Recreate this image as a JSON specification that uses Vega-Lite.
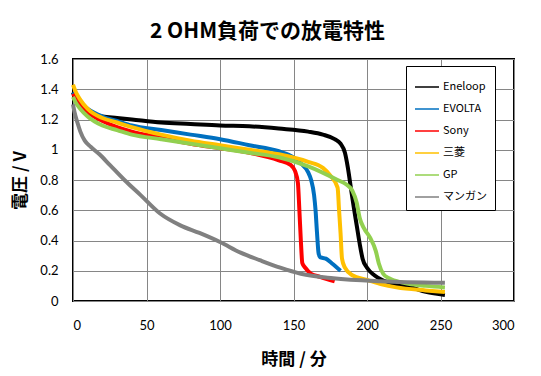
{
  "$schema": "https://vega.github.io/schema/vega-lite/v6.json",
  "width": 441,
  "height": 242,
  "autosize": {"type": "none"},
  "padding": {"left": 73, "top": 59, "right": 27, "bottom": 75},
  "background": "white",
  "title": {"text": "2 OHM負荷での放電特性", "anchor": "middle", "frame": "group", "dx": -26, "offset": 11, "fontSize": 21, "font": "Noto Sans CJK JP", "fontWeight": "bold", "color": "black"},
  "data": {"values": [
    {"s":"Eneloop","t":0,"v":1.38},{"s":"Eneloop","t":2,"v":1.33},{"s":"Eneloop","t":5,"v":1.29},{"s":"Eneloop","t":10,"v":1.25},{"s":"Eneloop","t":20,"v":1.22},{"s":"Eneloop","t":30,"v":1.21},{"s":"Eneloop","t":40,"v":1.2},{"s":"Eneloop","t":60,"v":1.18},{"s":"Eneloop","t":80,"v":1.17},{"s":"Eneloop","t":100,"v":1.16},{"s":"Eneloop","t":120,"v":1.155},{"s":"Eneloop","t":140,"v":1.14},{"s":"Eneloop","t":160,"v":1.12},{"s":"Eneloop","t":170,"v":1.1},{"s":"Eneloop","t":178,"v":1.07},{"s":"Eneloop","t":182,"v":1.04},{"s":"Eneloop","t":185,"v":0.98},{"s":"Eneloop","t":187,"v":0.88},{"s":"Eneloop","t":189,"v":0.75},{"s":"Eneloop","t":191,"v":0.62},{"s":"Eneloop","t":193,"v":0.5},{"s":"Eneloop","t":195,"v":0.38},{"s":"Eneloop","t":197,"v":0.28},{"s":"Eneloop","t":200,"v":0.22},{"s":"Eneloop","t":205,"v":0.17},{"s":"Eneloop","t":210,"v":0.14},{"s":"Eneloop","t":220,"v":0.11},{"s":"Eneloop","t":230,"v":0.09},{"s":"Eneloop","t":240,"v":0.06},{"s":"Eneloop","t":253,"v":0.04},
    {"s":"EVOLTA","t":0,"v":1.38},{"s":"EVOLTA","t":2,"v":1.35},{"s":"EVOLTA","t":5,"v":1.31},{"s":"EVOLTA","t":10,"v":1.27},{"s":"EVOLTA","t":20,"v":1.22},{"s":"EVOLTA","t":30,"v":1.19},{"s":"EVOLTA","t":40,"v":1.16},{"s":"EVOLTA","t":60,"v":1.13},{"s":"EVOLTA","t":80,"v":1.1},{"s":"EVOLTA","t":100,"v":1.07},{"s":"EVOLTA","t":120,"v":1.03},{"s":"EVOLTA","t":140,"v":0.99},{"s":"EVOLTA","t":150,"v":0.95},{"s":"EVOLTA","t":155,"v":0.91},{"s":"EVOLTA","t":160,"v":0.85},{"s":"EVOLTA","t":162,"v":0.8},{"s":"EVOLTA","t":164,"v":0.7},{"s":"EVOLTA","t":165,"v":0.6},{"s":"EVOLTA","t":166,"v":0.45},{"s":"EVOLTA","t":167,"v":0.32},{"s":"EVOLTA","t":168,"v":0.29},{"s":"EVOLTA","t":172,"v":0.28},{"s":"EVOLTA","t":176,"v":0.25},{"s":"EVOLTA","t":182,"v":0.2},
    {"s":"Sony","t":0,"v":1.37},{"s":"Sony","t":2,"v":1.34},{"s":"Sony","t":5,"v":1.3},{"s":"Sony","t":10,"v":1.25},{"s":"Sony","t":20,"v":1.19},{"s":"Sony","t":30,"v":1.15},{"s":"Sony","t":40,"v":1.12},{"s":"Sony","t":60,"v":1.08},{"s":"Sony","t":80,"v":1.04},{"s":"Sony","t":100,"v":1.01},{"s":"Sony","t":120,"v":0.98},{"s":"Sony","t":140,"v":0.93},{"s":"Sony","t":148,"v":0.9},{"s":"Sony","t":151,"v":0.86},{"s":"Sony","t":153,"v":0.78},{"s":"Sony","t":154,"v":0.6},{"s":"Sony","t":155,"v":0.4},{"s":"Sony","t":156,"v":0.25},{"s":"Sony","t":158,"v":0.22},{"s":"Sony","t":162,"v":0.18},{"s":"Sony","t":168,"v":0.16},{"s":"Sony","t":178,"v":0.13},
    {"s":"三菱","t":0,"v":1.43},{"s":"三菱","t":2,"v":1.38},{"s":"三菱","t":5,"v":1.33},{"s":"三菱","t":10,"v":1.27},{"s":"三菱","t":20,"v":1.21},{"s":"三菱","t":30,"v":1.18},{"s":"三菱","t":40,"v":1.15},{"s":"三菱","t":60,"v":1.1},{"s":"三菱","t":80,"v":1.06},{"s":"三菱","t":100,"v":1.03},{"s":"三菱","t":120,"v":1.0},{"s":"三菱","t":140,"v":0.97},{"s":"三菱","t":160,"v":0.92},{"s":"三菱","t":170,"v":0.88},{"s":"三菱","t":175,"v":0.83},{"s":"三菱","t":180,"v":0.75},{"s":"三菱","t":181,"v":0.6},{"s":"三菱","t":182,"v":0.45},{"s":"三菱","t":183,"v":0.28},{"s":"三菱","t":185,"v":0.22},{"s":"三菱","t":190,"v":0.17},{"s":"三菱","t":200,"v":0.14},{"s":"三菱","t":210,"v":0.11},{"s":"三菱","t":220,"v":0.09},{"s":"三菱","t":240,"v":0.07},{"s":"三菱","t":253,"v":0.06},
    {"s":"GP","t":0,"v":1.35},{"s":"GP","t":2,"v":1.31},{"s":"GP","t":5,"v":1.27},{"s":"GP","t":10,"v":1.22},{"s":"GP","t":20,"v":1.16},{"s":"GP","t":30,"v":1.13},{"s":"GP","t":40,"v":1.1},{"s":"GP","t":60,"v":1.07},{"s":"GP","t":80,"v":1.04},{"s":"GP","t":100,"v":1.01},{"s":"GP","t":120,"v":0.98},{"s":"GP","t":140,"v":0.95},{"s":"GP","t":160,"v":0.89},{"s":"GP","t":180,"v":0.8},{"s":"GP","t":186,"v":0.77},{"s":"GP","t":190,"v":0.73},{"s":"GP","t":193,"v":0.65},{"s":"GP","t":195,"v":0.55},{"s":"GP","t":198,"v":0.48},{"s":"GP","t":202,"v":0.42},{"s":"GP","t":206,"v":0.33},{"s":"GP","t":208,"v":0.25},{"s":"GP","t":211,"v":0.18},{"s":"GP","t":215,"v":0.15},{"s":"GP","t":225,"v":0.12},{"s":"GP","t":240,"v":0.1},{"s":"GP","t":253,"v":0.09},
    {"s":"マンガン","t":0,"v":1.3},{"s":"マンガン","t":1,"v":1.25},{"s":"マンガン","t":3,"v":1.18},{"s":"マンガン","t":5,"v":1.12},{"s":"マンガン","t":8,"v":1.06},{"s":"マンガン","t":12,"v":1.02},{"s":"マンガン","t":18,"v":0.97},{"s":"マンガン","t":25,"v":0.9},{"s":"マンガン","t":35,"v":0.8},{"s":"マンガン","t":46,"v":0.7},{"s":"マンガン","t":59,"v":0.58},{"s":"マンガン","t":73,"v":0.5},{"s":"マンガン","t":86,"v":0.45},{"s":"マンガン","t":100,"v":0.39},{"s":"マンガン","t":114,"v":0.32},{"s":"マンガン","t":127,"v":0.27},{"s":"マンガン","t":141,"v":0.22},{"s":"マンガン","t":155,"v":0.18},{"s":"マンガン","t":177,"v":0.15},{"s":"マンガン","t":209,"v":0.13},{"s":"マンガン","t":253,"v":0.12}
  ]},
  "mark": {"type": "line", "strokeWidth": 4, "interpolate": "monotone"},
  "encoding": {
    "x": {"field": "t", "type": "quantitative", "scale": {"domain": [0, 300], "nice": false},
      "axis": {"values": [0,50,100,150,200,250,300], "title": "時間 / 分", "grid": true, "ticks": false, "domain": false, "labelPadding": 18, "titlePadding": 19}},
    "y": {"field": "v", "type": "quantitative", "scale": {"domain": [0, 1.6], "nice": false},
      "axis": {"values": [0,0.2,0.4,0.6,0.8,1,1.2,1.4,1.6], "format": "~g", "title": "電圧 / V", "grid": true, "ticks": false, "domain": false, "labelPadding": 15, "titlePadding": 10}},
    "color": {"field": "s", "type": "nominal", "sort": null,
      "scale": {"domain": ["Eneloop","EVOLTA","Sony","三菱","GP","マンガン"], "range": ["#000000","#0070C0","#FF0000","#FFC000","#92D050","#808080"]},
      "legend": {"title": null, "orient": "none", "legendX": 333, "legendY": 7, "symbolType": "stroke", "symbolSize": 576, "symbolStrokeWidth": 1.5, "labelFontSize": 11, "labelFont": "Noto Sans CJK JP", "labelColor": "black", "fillColor": "white", "strokeColor": "black", "padding": 8, "rowPadding": 4, "labelOffset": 3, "labelLimit": 80}}
  },
  "config": {
    "view": {"stroke": "#000000", "strokeWidth": 2},
    "axis": {"gridColor": "#868686", "gridOpacity": 1, "gridWidth": 1, "labelFont": "Lato", "labelFontSize": 13, "labelColor": "black", "titleFont": "Noto Sans CJK JP", "titleFontSize": 17, "titleFontWeight": "bold", "titleColor": "black"}
  }
}
